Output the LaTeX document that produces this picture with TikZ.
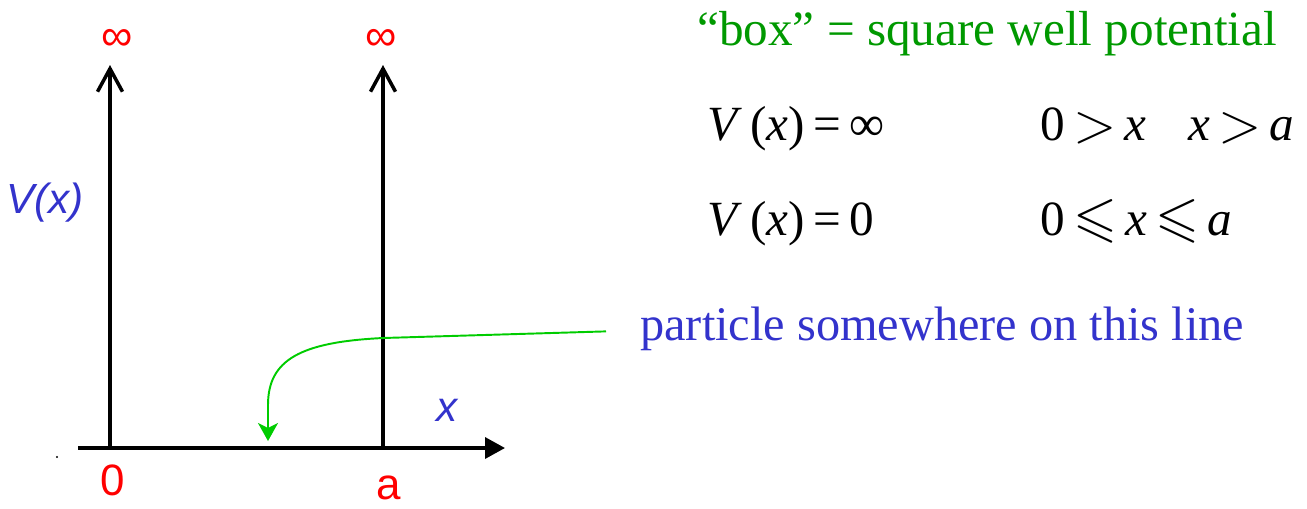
\documentclass[tikz,border=0pt]{standalone}
\usepackage{fontspec}
\usepackage{amssymb}
\usepackage{graphicx}
\setmainfont{Liberation Serif}
\newfontfamily\sanslbl{Liberation Sans}
\usetikzlibrary{arrows.meta,positioning}
\definecolor{wallred}{RGB}{255,0,0}
\definecolor{axisblue}{RGB}{51,51,204}
\definecolor{titlegreen}{RGB}{0,153,0}
\definecolor{hintgreen}{RGB}{0,204,0}
\newcommand{\bigger}{\,\raisebox{-0.05em}{\scalebox{1.3}{$>$}}\,}
\newcommand{\lesseq}{\,\scalebox{1.15}{$\leqslant$}\,}

\begin{document}
\begin{tikzpicture}[x=0.02cm,y=-0.02cm,
    wall/.style={-{Straight Barb[length=4.6mm,width=5mm]},line width=2pt},
    axis/.style={-{Triangle[length=4mm,width=4.2mm]},line width=2pt},
    hint/.style={-{Stealth[length=3.6mm,width=4mm,inset=1mm]},hintgreen,line width=1.1pt},
    redlbl/.style={text=wallred,font=\sanslbl\fontsize{25}{30}\selectfont,inner sep=0pt},
    bluelbl/.style={text=axisblue,font=\sanslbl\itshape\fontsize{24}{28}\selectfont,inner sep=0pt},
    eq/.style={anchor=base west,inner sep=0pt,font=\fontsize{28}{32}\selectfont},
    note/.style={anchor=base west,inner sep=0pt,font=\fontsize{27.5}{32}\selectfont}]
\useasboundingbox (0,0) rectangle (1307,508);

% the well
\coordinate (left) at (110,448);
\coordinate (right) at (383,448);
\coordinate (lefttop) at (110,65);
\coordinate (righttop) at (383,65);
\coordinate (xstart) at (78,448);
\coordinate (xend) at (505,448);
\coordinate (dot) at (57,457);
\draw[axis] (xstart) -- (xend);
\draw[wall] (left) -- (lefttop);
\draw[wall] (right) -- (righttop);
\fill (dot) circle (0.7pt);

\node[redlbl] (infl) at (117,40) {∞};
\node[redlbl] (infr) at (381,40) {∞};
\node[redlbl] (zero) at (113,480) {0};
\node[redlbl] (wida) at (389,488) {a};
\node[bluelbl] (vx) at (45,203) {V(x)};
\node[bluelbl] (xlbl) at (447,410) {x};

% text on the right
\node[note,text=titlegreen,font=\fontsize{28}{32}\selectfont] (title) at (697,45) {“box” = square well potential};
\node[eq] (vinf) at (707,140) {\textit{V}\,(\textit{x})\,=\,∞};
\node[eq] (outside) at (1040,140) {0\bigger\textit{x}\hspace{0.85em}\textit{x}\bigger\textit{a}};
\node[eq] (vzero) at (707,235) {\textit{V}\,(\textit{x})\,=\,0};
\node[eq] (inside) at (1040,235) {0\lesseq\textit{x}\lesseq\textit{a}};
\node[note,text=axisblue] (ptext) at (640,340) {particle somewhere on this line};

\coordinate (landing) at (268,441);
\draw[hint] ([xshift=-0.68cm,yshift=-0.06cm]ptext.west) -- (383,338)
    .. controls (300,342) and (268,360) .. (268,405) -- (landing);
\end{tikzpicture}
\end{document}
